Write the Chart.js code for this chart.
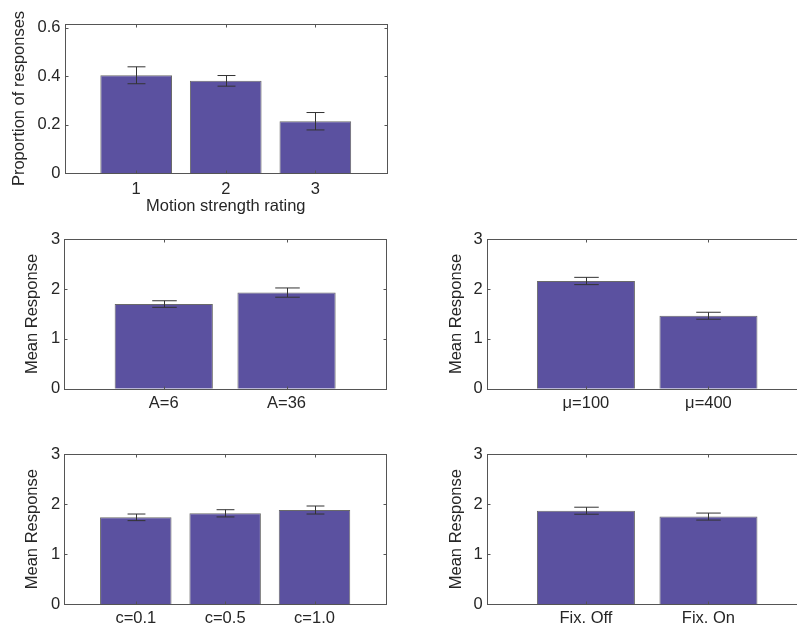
<!DOCTYPE html>
<html>
<head>
<meta charset="utf-8">
<script src="https://cdn.jsdelivr.net/npm/chart.js@4.4.1/dist/chart.umd.min.js"></script>
<style>
  html, body { margin: 0; padding: 0; background: #fff; width: 797px; height: 628px; overflow: hidden; }
  #wrap { position: relative; width: 797px; height: 628px; overflow: hidden; }
  canvas { position: absolute; }
</style>
</head>
<body>
<div id="wrap">
  <canvas id="ratingChart" width="400" height="222" style="left:0px;top:0px"></canvas>
  <canvas id="aChart" width="400" height="195" style="left:0px;top:225px"></canvas>
  <canvas id="muChart" width="420" height="195" style="left:400px;top:225px"></canvas>
  <canvas id="cChart" width="400" height="218" style="left:0px;top:410px"></canvas>
  <canvas id="fixChart" width="420" height="218" style="left:400px;top:410px"></canvas>
</div>
<script>
// --- data ---
const ratingLabels = ['1', '2', '3'];
const ratingValues = [0.404, 0.381, 0.214];
const ratingErrors = [0.035, 0.022, 0.036];
const ratingTicks = [0, 0.2, 0.4, 0.6];

const aLabels = ['A=6', 'A=36'];
const aValues = [1.70, 1.93];
const aErrors = [0.066, 0.093];

const muLabels = ['μ=100', 'μ=400'];
const muValues = [2.163, 1.465];
const muErrors = [0.073, 0.07];

const cLabels = ['c=0.1', 'c=0.5', 'c=1.0'];
const cValues = [1.736, 1.816, 1.882];
const cErrors = [0.066, 0.072, 0.08];

const fixLabels = ['Fix. Off', 'Fix. On'];
const fixValues = [1.868, 1.751];
const fixErrors = [0.07, 0.07];

const responseTicks = [0, 1, 2, 3];

// --- styling ---
const FONT = { family: "'Liberation Sans', Arial, sans-serif", size: 16.5 };
const TEXT = '#262626';
const BAR_FILL = '#5b51a0';
const BAR_EDGE = '#6a6a6a';
const FRAME = '#555555';
const ERR = '#333333';

// error bars + matlab style box with inward ticks
const boxPlugin = {
  id: 'boxAndErrors',
  afterDatasetsDraw(chart, args, opts) {
    const { ctx } = chart;
    const xs = chart.scales.x, ys = chart.scales.y;
    const capHalf = (xs.getPixelForValue(1.1) - xs.getPixelForValue(1));
    ctx.save();
    ctx.strokeStyle = ERR;
    ctx.lineWidth = 1;
    opts.values.forEach((v, i) => {
      const x = Math.round(xs.getPixelForValue(i + 1)) + 0.5;
      const yTop = ys.getPixelForValue(v + opts.errors[i]);
      const yBot = ys.getPixelForValue(v - opts.errors[i]);
      ctx.beginPath();
      ctx.moveTo(x, yTop); ctx.lineTo(x, yBot);
      ctx.moveTo(x - capHalf, yTop); ctx.lineTo(x + capHalf, yTop);
      ctx.moveTo(x - capHalf, yBot); ctx.lineTo(x + capHalf, yBot);
      ctx.stroke();
    });
    ctx.restore();
  },
  afterDraw(chart) {
    const { ctx, chartArea: a } = chart;
    const xs = chart.scales.x, ys = chart.scales.y;
    const l = Math.round(a.left) + 0.5, r = Math.round(a.right) + 0.5;
    const t = Math.round(a.top) + 0.5, b = Math.round(a.bottom) + 0.5;
    ctx.save();
    ctx.strokeStyle = FRAME;
    ctx.lineWidth = 1;
    ctx.strokeRect(l, t, r - l, b - t);
    const tick = 3;
    ctx.beginPath();
    xs.ticks.forEach(tk => {
      const x = Math.round(xs.getPixelForValue(tk.value)) + 0.5;
      ctx.moveTo(x, t); ctx.lineTo(x, t + tick);
      ctx.moveTo(x, b); ctx.lineTo(x, b - tick);
    });
    ys.ticks.forEach(tk => {
      const y = Math.round(ys.getPixelForValue(tk.value)) + 0.5;
      ctx.moveTo(l, y); ctx.lineTo(l + tick, y);
      ctx.moveTo(r, y); ctx.lineTo(r - tick, y);
    });
    ctx.stroke();
    ctx.restore();
  }
};

// area = chart area in canvas coords, xRange = axis limits in category units
function makePanel(id, p) {
  const canvas = document.getElementById(id);
  const W = canvas.width, H = canvas.height;
  new Chart(canvas.getContext('2d'), {
    type: 'bar',
    data: {
      datasets: [{
        data: p.values.map((v, i) => ({ x: i + 1, y: v })),
        backgroundColor: BAR_FILL,
        borderColor: BAR_EDGE,
        borderWidth: 1,
        barPercentage: 0.8,
        categoryPercentage: 1
      }]
    },
    plugins: [boxPlugin],
    options: {
      responsive: false,
      animation: false,
      devicePixelRatio: 1,
      layout: { padding: { left: 0, top: p.area.t, right: W - p.area.r, bottom: 0 } },
      plugins: {
        legend: { display: false },
        tooltip: { enabled: false },
        boxAndErrors: { values: p.values, errors: p.errors }
      },
      scales: {
        x: {
          type: 'linear',
          offset: false,
          min: p.xRange[0],
          max: p.xRange[1],
          grid: { display: false, drawTicks: false },
          border: { display: false },
          afterBuildTicks: s => { s.ticks = p.labels.map((l, i) => ({ value: i + 1 })); },
          afterFit: s => { s.height = H - p.area.b; },
          ticks: {
            autoSkip: false, maxRotation: 0, padding: p.xPad,
            color: TEXT, font: FONT,
            callback: v => p.labels[Math.round(v) - 1]
          },
          title: {
            display: !!p.xTitle, text: p.xTitle || '',
            color: TEXT, font: FONT, padding: { top: 0, bottom: p.xTitlePad || 0 }
          }
        },
        y: {
          min: 0,
          max: p.yMax,
          grid: { display: false, drawTicks: false },
          border: { display: false },
          afterBuildTicks: s => { s.ticks = p.yTicks.map(v => ({ value: v })); },
          afterFit: s => { s.width = p.area.l; },
          ticks: { padding: 4, color: TEXT, font: FONT, callback: v => String(v) },
          title: {
            display: true, text: p.yTitle,
            color: TEXT, font: FONT, padding: { top: p.yTitlePad, bottom: 0 }
          }
        }
      }
    }
  });
}

makePanel('ratingChart', {
  labels: ratingLabels, values: ratingValues, errors: ratingErrors,
  yTicks: ratingTicks, yMax: 0.616, xRange: [0.2, 3.8],
  area: { l: 64.5, t: 24, r: 387, b: 173 },
  xPad: 7, xTitle: 'Motion strength rating', xTitlePad: 5.4,
  yTitle: 'Proportion of responses', yTitlePad: 9.3
});

makePanel('aChart', {
  labels: aLabels, values: aValues, errors: aErrors,
  yTicks: responseTicks, yMax: 3, xRange: [0.19, 2.81],
  area: { l: 64.3, t: 14.3, r: 386, b: 163.7 },
  xPad: 4.4, yTitle: 'Mean Response', yTitlePad: 22.7
});

makePanel('muChart', {
  labels: muLabels, values: muValues, errors: muErrors,
  yTicks: responseTicks, yMax: 3, xRange: [0.19, 2.81],
  area: { l: 86.7, t: 14.3, r: 407.7, b: 163.7 },
  xPad: 4.4, yTitle: 'Mean Response', yTitlePad: 46.1
});

makePanel('cChart', {
  labels: cLabels, values: cValues, errors: cErrors,
  yTicks: responseTicks, yMax: 3, xRange: [0.2, 3.8],
  area: { l: 64.3, t: 44, r: 386, b: 194.3 },
  xPad: 4, yTitle: 'Mean Response', yTitlePad: 22.7
});

makePanel('fixChart', {
  labels: fixLabels, values: fixValues, errors: fixErrors,
  yTicks: responseTicks, yMax: 3, xRange: [0.19, 2.81],
  area: { l: 86.7, t: 44, r: 407.7, b: 194.3 },
  xPad: 4, yTitle: 'Mean Response', yTitlePad: 46.1
});
</script>
</body>
</html>
